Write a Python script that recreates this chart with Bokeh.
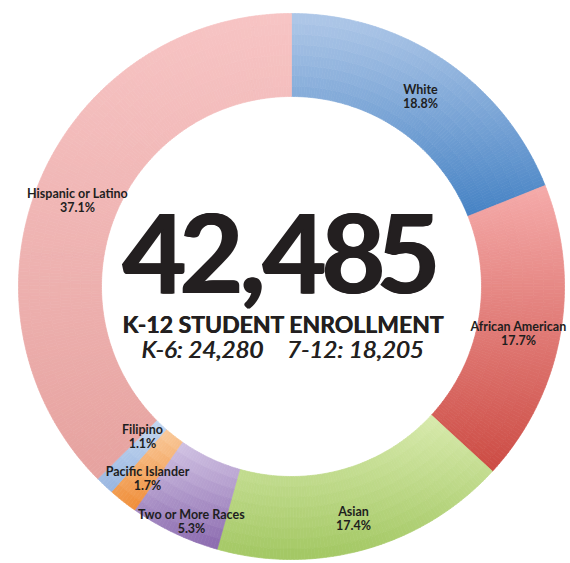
import numpy as np
from bokeh.plotting import figure
from bokeh.models import Range1d, ColumnDataSource
from bokeh.core.properties import value
from bokeh.embed import file_html
from bokeh.resources import INLINE

# ---------------- data ----------------
categories = ["White", "African American", "Asian", "Two or More Races",
              "Pacific Islander", "Filipino", "Hispanic or Latino"]
percents = [18.8, 17.7, 17.4, 5.3, 1.7, 1.1, 37.1]
pct_labels = ["18.8%", "17.7%", "17.4%", "5.3%", "1.7%", "1.1%", "37.1%"]
total_enrollment = "42,485"
subtitle = "K-12 STUDENT ENROLLMENT"
k6_text = "K-6: 24,280"
g712_text = "7-12: 18,205"

# gradient colours per slice (top -> bottom of the slice)
top_colors = ["#b0c8e8", "#f5abaa", "#d8eaad", "#d2c4e4", "#f9cb9e", "#c4d7f0", "#f7c4c4"]
bottom_colors = ["#4582c4", "#cc4b43", "#a2c762", "#8a69ae", "#ef8c36", "#97b5e0", "#e6a29f"]

# ---------------- geometry (pixels) ----------------
W, H = 570, 563
CX, CY = 291, 286          # centre of ring in screen pixels
R_OUT, R_IN = 273, 190

def sx(px):
    return px - CX

def sy(py):
    return CY - py

def hex2rgb(h):
    h = h.lstrip("#")
    return np.array([int(h[i:i + 2], 16) for i in (0, 2, 4)], dtype=float)

def rgb2hex(c):
    c = np.clip(np.round(c), 0, 255).astype(int)
    return "#%02x%02x%02x" % tuple(c)

p = figure(width=W, height=H, x_range=Range1d(-CX, W - CX), y_range=Range1d(-(H - CY), CY),
           output_backend="svg", toolbar_location=None, min_border=0,
           x_axis_location=None, y_axis_location=None, outline_line_color=None,
           background_fill_color="white", border_fill_color="white")
p.grid.visible = False

fr = np.array(percents) / np.sum(percents)
bounds = np.concatenate([[0.0], np.cumsum(fr)]) * 360.0   # clockwise from top, degrees

NR = 8
cells = dict(x=[], y=[], ir=[], orr=[], sa=[], ea=[], color=[])
for i in range(len(categories)):
    th0, th1 = bounds[i], bounds[i + 1]
    ths = np.radians(np.linspace(th0, th1, 400))
    ys = np.concatenate([R_OUT * np.cos(ths), R_IN * np.cos(ths)])
    ymax, ymin = ys.max(), ys.min()
    c_top, c_bot = hex2rgb(top_colors[i]), hex2rgb(bottom_colors[i])
    n_a = max(2, int(np.ceil((th1 - th0) / 0.75)))
    a_edges = np.linspace(th0, th1, n_a + 1)
    r_edges = np.linspace(R_IN, R_OUT, NR + 1)
    for a in range(n_a):
        amid = np.radians(0.5 * (a_edges[a] + a_edges[a + 1]))
        for r in range(NR):
            rmid = 0.5 * (r_edges[r] + r_edges[r + 1])
            yc = rmid * np.cos(amid)
            t = (ymax - yc) / (ymax - ymin)
            col = rgb2hex(c_top + (c_bot - c_top) * t)
            cells["x"].append(0.0)
            cells["y"].append(0.0)
            cells["ir"].append(r_edges[r])
            cells["orr"].append(r_edges[r + 1])
            cells["sa"].append(np.radians(90.0 - a_edges[a + 1]))
            cells["ea"].append(np.radians(90.0 - a_edges[a]))
            cells["color"].append(col)

p.annular_wedge(x="x", y="y", inner_radius="ir", outer_radius="orr",
                start_angle="sa", end_angle="ea", direction="anticlock",
                fill_color="color", line_color="color", line_width=0.7,
                source=ColumnDataSource(cells))

# ---------------- slice labels ----------------
label_px = [(420, 89), (518, 326), (353, 511), (191, 514), (147, 471), (142, 429), (77, 193)]
line_gap = 14
lab = dict(x=[], y=[], text=[])
for (px, py), name, pct in zip(label_px, categories, pct_labels):
    lab["x"] += [sx(px), sx(px)]
    lab["y"] += [sy(py), sy(py + line_gap)]
    lab["text"] += [name, pct]
p.text(x="x", y="y", text="text", source=ColumnDataSource(lab),
       text_font=value("Lato"), text_font_style="bold", text_font_size="12.5px",
       text_align="center", text_baseline="middle", text_color="#1e1e1e")

# ---------------- centre texts ----------------
big_x = [154, 211, 252, 294, 353, 408]
big = dict(x=[sx(v) for v in big_x], y=[sy(252)] * len(big_x), text=list(total_enrollment))
for dx in (-1.0, 0.0, 1.0):
    p.text(x="x", y="y", text="text", source=ColumnDataSource(big), x_offset=dx,
           text_font=value("Lato"), text_font_style="bold", text_font_size="110px",
           text_align="center", text_baseline="middle", text_color="#231f20")

for dx in (-0.3, 0.3):
    p.text(x=[sx(283)], y=[sy(323)], text=[subtitle], x_offset=dx,
           text_font=value("Lato"), text_font_style="bold", text_font_size="23px",
           text_align="center", text_baseline="middle", text_color="#231f20")

for dx in (-0.4, 0.4):
    p.text(x=[sx(202), sx(355)], y=[sy(348), sy(348)], text=[k6_text, g712_text], x_offset=dx,
           text_font=value("Lato"), text_font_style="italic", text_font_size="24px",
           text_align="center", text_baseline="middle", text_color="#231f20")

open("out.html", "w").write(file_html(p, INLINE))
